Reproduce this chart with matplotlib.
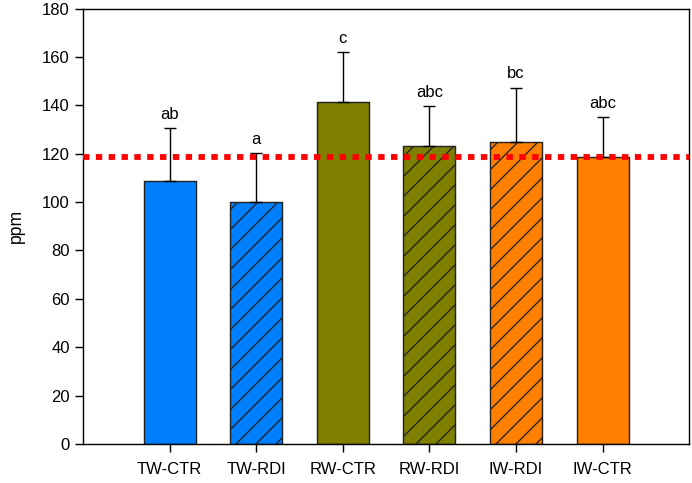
import numpy as np
import matplotlib
matplotlib.use('Agg')
import matplotlib.pyplot as plt

plt.rcParams['font.family'] = ['Liberation Sans', 'DejaVu Sans']
plt.rcParams['hatch.linewidth'] = 0.8

# treatment data
groups   = ['TW-CTR', 'TW-RDI', 'RW-CTR', 'RW-RDI', 'IW-RDI', 'IW-CTR']
means    = [108.7, 100.1, 141.6, 123.1, 124.9, 118.5]
errors   = [22.0, 20.3, 20.4, 16.7, 22.5, 16.8]
letters  = ['ab', 'a', 'c', 'abc', 'bc', 'abc']
colors   = ['#0080FF', '#0080FF', '#808000', '#808000', '#FF8000', '#FF8000']
hatches  = ['', '//', '', '//', '//', '']
ref_line = 118.8

# 120 dpi keeps the hatch spacing close to 20 px
DPI = 120
fig = plt.figure(figsize=(692 / DPI, 483 / DPI), dpi=DPI)
ax = fig.add_axes([0.12, 0.081, 0.876, 0.901])

x = np.arange(1, len(groups) + 1)
ax.bar(x, means, width=0.6, color=colors, hatch=hatches,
       edgecolor='#222222', linewidth=0.85, zorder=2)
ax.errorbar(x, means, yerr=[np.zeros(len(means)), errors], fmt='none',
            ecolor='black', elinewidth=0.85, capsize=3.4, capthick=0.85, zorder=3)

for xi, m, e, lab in zip(x, means, errors, letters):
    ax.text(xi, m + e + 3.8, lab, ha='center', va='baseline', fontsize=10)

ax.axhline(ref_line, color='#FF0000', linewidth=3.5, linestyle=(0, (1.1, 1.1)),
           dash_capstyle='butt', zorder=4)

ax.set_xlim(0, 7)
ax.set_ylim(0, 180)
ax.set_yticks(np.arange(0, 181, 20))
ax.set_xticks(x)
ax.set_xticklabels(groups)
ax.set_ylabel('ppm', fontsize=10.6, labelpad=10)
ax.tick_params(axis='y', direction='out', length=5, width=0.85, pad=3, labelsize=10)
ax.tick_params(axis='x', direction='out', length=5, width=0.85, pad=6, labelsize=10)
for sp in ax.spines.values():
    sp.set_linewidth(0.85)

fig.savefig('out.png', dpi=DPI)
